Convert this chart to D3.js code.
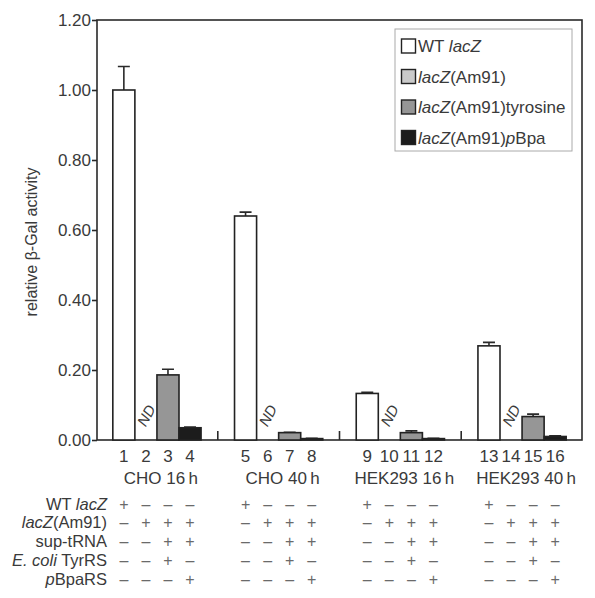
<!DOCTYPE html>
<html>
<head>
<meta charset="utf-8">
<script src="https://cdn.jsdelivr.net/npm/d3@7"></script>
<style>
  body { margin: 0; background: #fff; }
  svg { font-family: "Liberation Sans", Arial, sans-serif; }
</style>
</head>
<body>
<div id="chart"></div>
<script>
// lane numbers, groups and series
const lanes = ["1","2","3","4","5","6","7","8","9","10","11","12","13","14","15","16"];
const groups = ["CHO 16\u2009h", "CHO 40\u2009h", "HEK293 16\u2009h", "HEK293 40\u2009h"];
const seriesNames = ["WT lacZ", "lacZ(Am91)", "lacZ(Am91)tyrosine", "lacZ(Am91)pBpa"];
const seriesColors = ["#ffffff", "#cacaca", "#969696", "#1c1c1c"];

// relative beta-gal activity per lane (null = ND)
const values = [1.00, null, 0.186, 0.035, 0.64, null, 0.021, 0.004, 0.133, null, 0.021, 0.004, 0.269, null, 0.067, 0.010];
const errors = [0.067, null, 0.016, 0.002, 0.011, null, 0.001, 0.001, 0.003, null, 0.005, 0.001, 0.010, null, 0.007, 0.002];

const yTicks = [0, 0.2, 0.4, 0.6, 0.8, 1.0, 1.2];

// condition table, one pattern per lane within a group
const condLabels = [
  [["WT ", false], ["lacZ", true]],
  [["lacZ", true], ["(Am91)", false]],
  [["sup-tRNA", false]],
  [["E. coli", true], [" TyrRS", false]],
  [["p", true], ["BpaRS", false]]
];
const condSigns = [
  ["+", "-", "-", "-"],
  ["-", "+", "+", "+"],
  ["-", "-", "+", "+"],
  ["-", "-", "+", "-"],
  ["-", "-", "-", "+"]
];
const legendLabels = [
  [["WT ", false], ["lacZ", true]],
  [["lacZ", true], ["(Am91)", false]],
  [["lacZ", true], ["(Am91)tyrosine", false]],
  [["lacZ", true], ["(Am91)", false], ["p", true], ["Bpa", false]]
];

const width = 595, height = 598;
const margin = { top: 20, right: 13, left: 97 };
const plotBottom = 440;
const plotRight = width - margin.right;

const svg = d3.select("#chart").append("svg")
  .attr("width", width)
  .attr("height", height);

const y = d3.scaleLinear().domain([0, 1.2]).range([plotBottom, margin.top]);

const xGroup = d3.scaleBand()
  .domain(d3.range(groups.length))
  .range([margin.left, plotRight])
  .paddingInner(0.275)
  .paddingOuter(0.13);

const xLane = d3.scaleBand()
  .domain(d3.range(4))
  .range([0, xGroup.bandwidth()]);

const laneX = (i) => xGroup(Math.floor(i / 4)) + xLane(i % 4);
const bw = xLane.bandwidth();

const textColor = "#3a3a3a";

// frame
svg.append("rect")
  .attr("x", margin.left)
  .attr("y", margin.top)
  .attr("width", plotRight - margin.left)
  .attr("height", plotBottom - margin.top)
  .attr("fill", "none")
  .attr("stroke", "#2a2a2a")
  .attr("stroke-width", 1.6);

// y axis
const yAxis = svg.append("g")
  .attr("transform", `translate(${margin.left},0)`)
  .call(d3.axisLeft(y).tickValues(yTicks).tickFormat(d3.format(".2f")).tickSize(5).tickPadding(1));
yAxis.select(".domain").remove();
yAxis.selectAll(".tick line").attr("stroke", "#2a2a2a").attr("stroke-width", 1.6);
yAxis.selectAll(".tick text")
  .attr("font-size", 17)
  .attr("fill", textColor)
  .attr("font-family", "Liberation Sans, Arial, sans-serif");

svg.append("text")
  .attr("transform", `translate(37,${(margin.top + plotBottom) / 2 + 12}) rotate(-90)`)
  .attr("text-anchor", "middle")
  .attr("font-size", 16)
  .attr("fill", textColor)
  .text("relative \u03B2-Gal activity");

// group separators
d3.range(1, groups.length).forEach((g) => {
  const sx = (xGroup(g - 1) + xGroup.bandwidth() + xGroup(g)) / 2;
  svg.append("line")
    .attr("x1", sx).attr("x2", sx)
    .attr("y1", plotBottom).attr("y2", plotBottom - 9)
    .attr("stroke", "#2a2a2a")
    .attr("stroke-width", 1.6);
});

// bars
const barData = values.map((v, i) => ({ v, e: errors[i], i, s: i % 4 }));

svg.selectAll(".err")
  .data(barData.filter((d) => d.v !== null))
  .enter()
  .append("path")
  .attr("class", "err")
  .attr("fill", "none")
  .attr("stroke", "#2a2a2a")
  .attr("stroke-width", 1.6)
  .attr("d", (d) => {
    const cx = laneX(d.i) + bw / 2;
    const top = y(d.v + d.e);
    return `M${cx},${y(d.v)}V${top}M${cx - 6},${top}H${cx + 6}`;
  });

svg.selectAll(".bar")
  .data(barData.filter((d) => d.v !== null))
  .enter()
  .append("rect")
  .attr("class", "bar")
  .attr("x", (d) => laneX(d.i))
  .attr("y", (d) => y(d.v))
  .attr("width", bw)
  .attr("height", (d) => plotBottom - y(d.v))
  .attr("fill", (d) => seriesColors[d.s])
  .attr("stroke", "#222")
  .attr("stroke-width", 1.6);

// ND labels
svg.selectAll(".nd")
  .data(barData.filter((d) => d.v === null))
  .enter()
  .append("text")
  .attr("class", "nd")
  .attr("transform", (d) => `translate(${laneX(d.i) + bw / 2 + 5},${plotBottom - 22}) rotate(-62)`)
  .attr("text-anchor", "middle")
  .attr("font-size", 15)
  .attr("font-style", "italic")
  .attr("fill", textColor)
  .text("ND");

// lane numbers
svg.selectAll(".lane")
  .data(lanes)
  .enter()
  .append("text")
  .attr("class", "lane")
  .attr("x", (d, i) => laneX(i) + bw / 2)
  .attr("y", 462)
  .attr("text-anchor", "middle")
  .attr("font-size", 17)
  .attr("fill", textColor)
  .text((d) => d);

// group labels
svg.selectAll(".grp")
  .data(groups)
  .enter()
  .append("text")
  .attr("class", "grp")
  .attr("x", (d, g) => xGroup(g) + xGroup.bandwidth() / 2 + 4)
  .attr("y", 484)
  .attr("text-anchor", "middle")
  .attr("font-size", 17)
  .attr("fill", textColor)
  .text((d) => d);

// condition table
const rowY = (r) => 509.5 + r * 18.8;

condLabels.forEach((parts, r) => {
  const t = svg.append("text")
    .attr("x", 107)
    .attr("y", rowY(r))
    .attr("text-anchor", "end")
    .attr("font-size", 16.5)
    .attr("fill", textColor);
  parts.forEach(([s, it]) => {
    t.append("tspan").attr("font-style", it ? "italic" : "normal").text(s);
  });
});

condSigns.forEach((signs, r) => {
  svg.selectAll(null)
    .data(lanes)
    .enter()
    .append("text")
    .attr("x", (d, i) => laneX(i) + bw / 2)
    .attr("y", rowY(r))
    .attr("text-anchor", "middle")
    .attr("font-size", 16)
    .attr("fill", "#6a6a6a")
    .text((d, i) => (signs[i % 4] === "+" ? "+" : "\u2013"));
});

// legend
const legend = svg.append("g").attr("transform", "translate(395,29)");
legend.append("rect")
  .attr("width", 177)
  .attr("height", 122)
  .attr("fill", "#fff")
  .attr("stroke", "#aaa")
  .attr("stroke-width", 1);

legendLabels.forEach((parts, k) => {
  const ly = 17 + k * 30.5;
  legend.append("rect")
    .attr("x", 6.5)
    .attr("y", ly - 7)
    .attr("width", 14)
    .attr("height", 14)
    .attr("fill", seriesColors[k])
    .attr("stroke", "#222")
    .attr("stroke-width", 1.4);
  const t = legend.append("text")
    .attr("x", 23)
    .attr("y", ly + 6)
    .attr("font-size", 17)
    .attr("fill", textColor);
  parts.forEach(([s, it]) => {
    t.append("tspan").attr("font-style", it ? "italic" : "normal").text(s);
  });
});
</script>
</body>
</html>
